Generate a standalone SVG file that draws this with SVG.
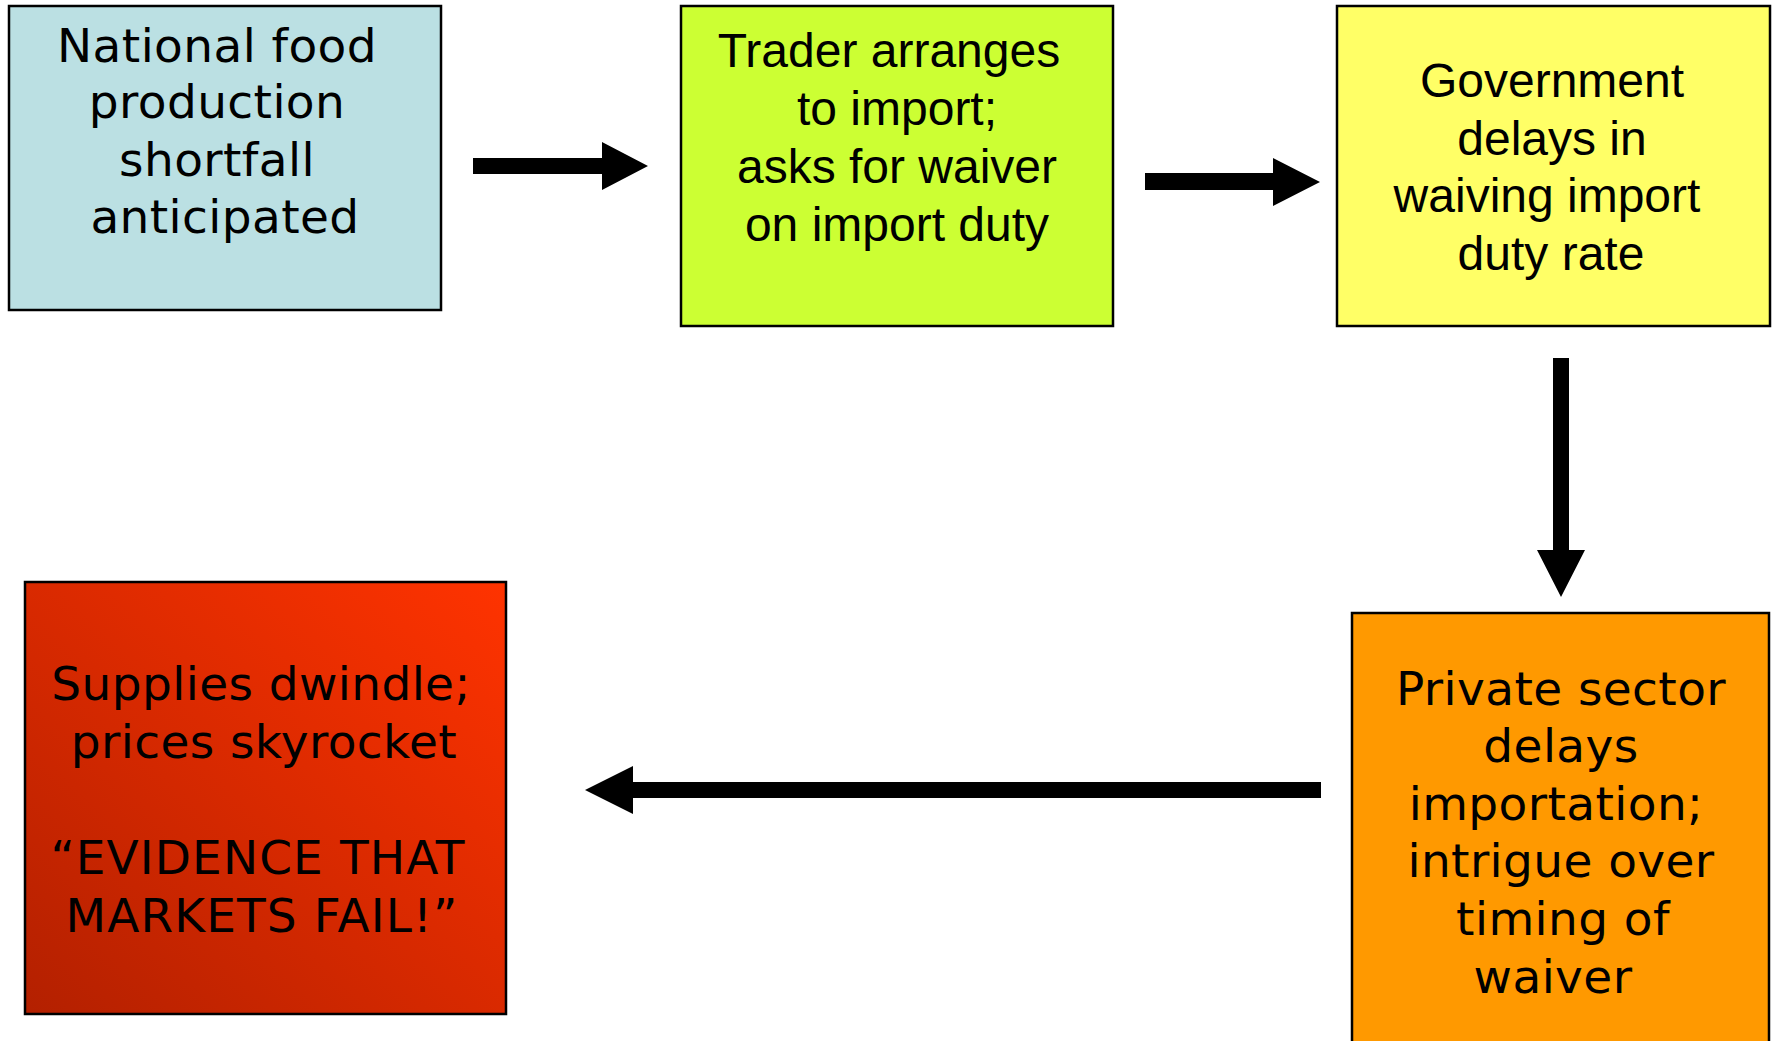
<svg xmlns="http://www.w3.org/2000/svg" width="1774" height="1041" viewBox="0 0 1774 1041">
<style>
.box{stroke:#000;stroke-width:2.5}
.v{font-family:"DejaVu Sans",Verdana,sans-serif;font-size:47px;fill:#000;text-anchor:middle;letter-spacing:0.4px}
.caps{letter-spacing:1.1px}
.a{font-family:"Liberation Sans",Arial,sans-serif;font-size:48px;fill:#000;text-anchor:middle}
.arr{fill:#000}
</style>
<defs>
<linearGradient id="redgrad" x1="1" y1="0" x2="0" y2="1">
<stop offset="0" stop-color="#FF3300"/>
<stop offset="1" stop-color="#B32000"/>
</linearGradient>
</defs>
<rect width="1774" height="1041" fill="#fff"/>
<g id="connectors">
<path class="arr" d="M473,158 H602 V142 L648,166 L602,190 V174 H473 Z"/>
<path class="arr" d="M1145,173 H1273 V158 L1320,182 L1273,206 V190 H1145 Z"/>
<path class="arr" d="M1553,358 V550 H1537 L1561,597 L1585,550 H1569 V358 Z"/>
<path class="arr" d="M1321,782 H633 V766 L585,790 L633,814 V798 H1321 Z"/>
</g>
<g id="node-shortfall">
<rect class="box" x="9" y="6" width="432" height="304" fill="#BBE0E3"/>
<text class="v" x="217" y="62">National food</text>
<text class="v" x="217" y="118">production</text>
<text class="v" x="217" y="176">shortfall</text>
<text class="v" x="225" y="233">anticipated</text>
</g>
<g id="node-trader">
<rect class="box" x="681" y="6" width="432" height="320" fill="#CCFF33"/>
<text class="a" x="889" y="67">Trader arranges</text>
<text class="a" x="897" y="125">to import;</text>
<text class="a" x="897" y="183">asks for waiver</text>
<text class="a" x="897" y="241">on import duty</text>
</g>
<g id="node-government">
<rect class="box" x="1337" y="6" width="433" height="320" fill="#FFFF66"/>
<text class="a" x="1552" y="97">Government</text>
<text class="a" x="1552" y="155">delays in</text>
<text class="a" x="1547" y="212">waiving import</text>
<text class="a" x="1551" y="270">duty rate</text>
</g>
<g id="node-private">
<rect class="box" x="1352" y="613" width="417" height="460" fill="#FF9900"/>
<text class="v" x="1561" y="705">Private sector</text>
<text class="v" x="1561" y="762">delays</text>
<text class="v" x="1556" y="820">importation;</text>
<text class="v" x="1561" y="877">intrigue over</text>
<text class="v" x="1563" y="935">timing of</text>
<text class="v" x="1553" y="993">waiver</text>
</g>
<g id="node-supplies">
<rect class="box" x="25" y="582" width="481" height="432" fill="url(#redgrad)"/>
<text class="v" x="261" y="700">Supplies dwindle;</text>
<text class="v" x="264" y="758">prices skyrocket</text>
<text class="v caps" x="258" y="874">“EVIDENCE THAT</text>
<text class="v caps" x="262" y="932">MARKETS FAIL!”</text>
</g>
</svg>
